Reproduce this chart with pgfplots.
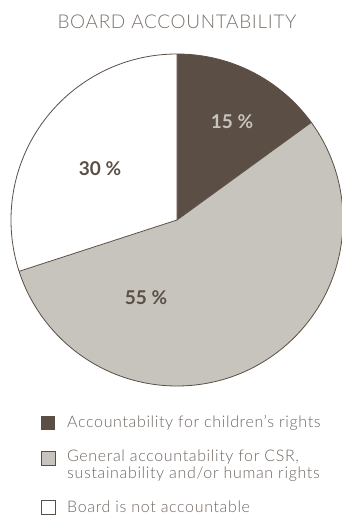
\documentclass[border=0pt]{standalone}
\usepackage{pgfplots}
\usepackage{pgfplotstable}
\pgfplotsset{compat=1.18}
\usepackage{fontspec}
\setmainfont{Lato}
\newfontfamily\lightfont{Lato Light}
\newfontfamily\titlefont{Lato Light}[LetterSpace=3.5]
\newfontfamily\legfont{Lato Light}[LetterSpace=4]
\definecolor{darkc}{HTML}{5B4E45}
\definecolor{grayc}{HTML}{C7C3BD}
\definecolor{titlec}{HTML}{7A706A}
\definecolor{legc}{HTML}{6E655F}
\pgfplotstableread{
value
15
55
30
}\piedata
\pgfplotstablegetelem{0}{value}\of\piedata \let\vA\pgfplotsretval
\pgfplotstablegetelem{1}{value}\of\piedata \let\vB\pgfplotsretval
\pgfplotstablegetelem{2}{value}\of\piedata \let\vC\pgfplotsretval
\pgfmathsetmacro\aA{90}
\pgfmathsetmacro\aB{\aA-3.6*\vA}
\pgfmathsetmacro\aC{\aB-3.6*\vB}
\pgfmathsetmacro\aD{\aC-3.6*\vC}
\def\R{166}
\begin{document}
\begin{tikzpicture}
\useasboundingbox (0,0) rectangle (342pt,520pt);
\begin{axis}[
  at={(0,0)}, anchor=south west,
  x=1pt, y=1pt,
  xmin=-177, xmax=165, ymin=-300, ymax=220,
  hide axis, clip=false,
]
\fill[darkc] (axis cs:0,0) -- (axis cs:{\R*cos(\aA)},{\R*sin(\aA)}) arc[start angle=\aA, end angle=\aB, radius=\R pt] -- cycle;
\fill[grayc] (axis cs:0,0) -- (axis cs:{\R*cos(\aB)},{\R*sin(\aB)}) arc[start angle=\aB, end angle=\aC, radius=\R pt] -- cycle;
\fill[white] (axis cs:0,0) -- (axis cs:{\R*cos(\aC)},{\R*sin(\aC)}) arc[start angle=\aC, end angle=\aD, radius=\R pt] -- cycle;
\draw[darkc, line width=0.8pt] (axis cs:0,0) circle[radius=\R pt];
\draw[darkc, line width=0.8pt] (axis cs:{\R*cos(\aA)},{\R*sin(\aA)}) -- (axis cs:0,0) -- (axis cs:{\R*cos(\aB)},{\R*sin(\aB)});
\draw[darkc, line width=0.8pt] (axis cs:0,0) -- (axis cs:{\R*cos(\aC)},{\R*sin(\aC)});
% labels
\node[text=grayc, font=\fontsize{19}{22}\selectfont\bfseries] at (axis cs:55,98) {\vA\ \%};
\node[text=darkc, font=\fontsize{19}{22}\selectfont\bfseries] at (axis cs:-31,-78) {\vB\ \%};
\node[text=darkc, font=\fontsize{19}{22}\selectfont\bfseries] at (axis cs:-77,51) {\vC\ \%};
% title
\node[text=titlec, font=\titlefont\fontsize{19}{22}\selectfont] at (axis cs:0,198) {BOARD ACCOUNTABILITY};
% legend
\fill[darkc] (axis cs:-136,-196) rectangle (axis cs:-122,-210);
\draw[darkc, line width=0.6pt, fill=grayc] (axis cs:-136,-231) rectangle (axis cs:-122,-245);
\draw[darkc, line width=0.6pt, fill=white] (axis cs:-136,-280) rectangle (axis cs:-122,-294);
\node[anchor=west, text=legc, font=\legfont\fontsize{16}{18}\selectfont, inner sep=0pt] at (axis cs:-110,-203) {Accountability for children’s rights};
\node[anchor=west, text=legc, font=\legfont\fontsize{16}{18}\selectfont, inner sep=0pt] at (axis cs:-110,-237) {General accountability for CSR,};
\node[anchor=west, text=legc, font=\legfont\fontsize{16}{18}\selectfont, inner sep=0pt] at (axis cs:-110,-254) {sustainability and/or human rights};
\node[anchor=west, text=legc, font=\legfont\fontsize{16}{18}\selectfont, inner sep=0pt] at (axis cs:-110,-287) {Board is not accountable};
\end{axis}
\end{tikzpicture}
\end{document}
